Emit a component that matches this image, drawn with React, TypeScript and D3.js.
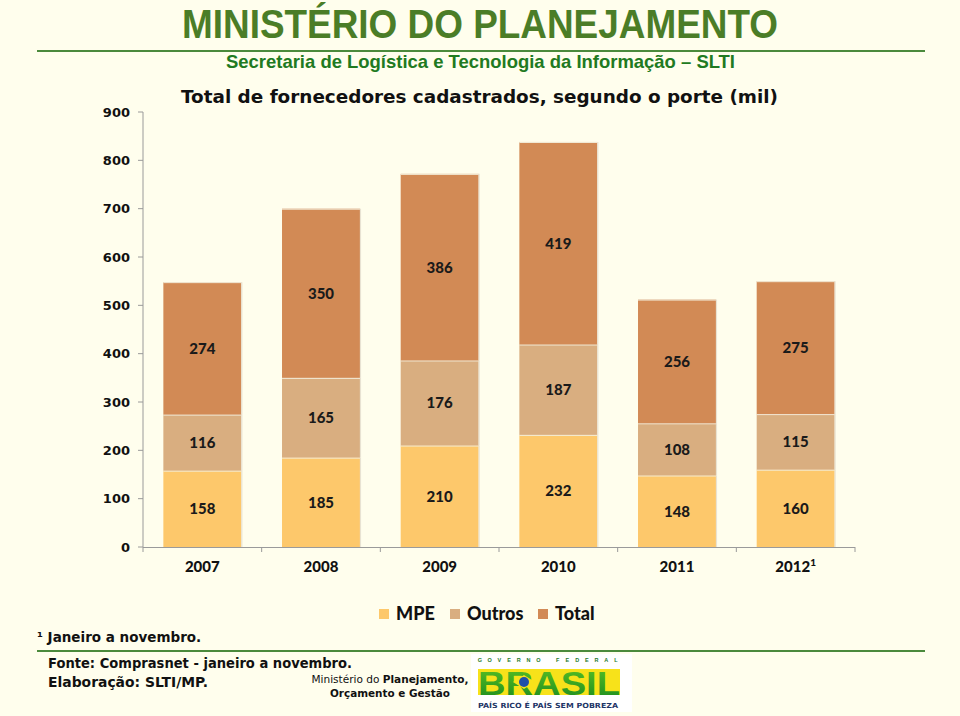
import React from "react";
import * as d3 from "d3";

const years = ["2007", "2008", "2009", "2010", "2011", "2012"];
const yearSup = ["", "", "", "", "", "1"];
const mpe = [158, 185, 210, 232, 148, 160];
const outros = [116, 165, 176, 187, 108, 115];
const total = [274, 350, 386, 419, 256, 275];
const yTicks = [0, 100, 200, 300, 400, 500, 600, 700, 800, 900];
const seriesKeys = ["MPE", "Outros", "Total"];
const seriesColors = ["#fdc86b", "#d9ae80", "#d28a55"];
const govLetters = ["G", "O", "V", "E", "R", "N", "O", "", "F", "E", "D", "E", "R", "A", "L"];

const W = 960;
const H = 716;

export default function App() {
  const x = d3.scaleBand<string>().domain(years).range([143, 855]).paddingInner(0.343).paddingOuter(0.1715);
  const y = d3.scaleLinear().domain([0, 900]).range([547, 112]);

  const rows = years.map((yr, i) => ({ year: yr, MPE: mpe[i], Outros: outros[i], Total: total[i] }));
  const stack = d3.stack<any>().keys(seriesKeys);
  const layers = stack(rows);

  const step = x.step();
  const boundaries = d3.range(years.length + 1).map((i) => 143 + i * step);

  const labelFont = "Lato, 'Open Sans', sans-serif";
  const verd = "'DejaVu Sans', Verdana, sans-serif";
  const narrow = "'Liberation Sans Narrow', 'Arial Narrow', 'Liberation Sans', sans-serif";

  const govX = d3.scaleLinear().domain([0, govLetters.length - 1]).range([480, 616]);

  return (
    <svg width={W} height={H} style={{ position: "absolute", left: 0, top: 0 }} xmlns="http://www.w3.org/2000/svg">
      <defs>
        <linearGradient id="brasilG" x1="0" y1="0" x2="0" y2="1">
          <stop offset="0" stopColor="#5cc224" />
          <stop offset="1" stopColor="#1a8a1f" />
        </linearGradient>
      </defs>
      <rect x={0} y={0} width={W} height={H} fill="#fffeed" />

      {/* Header */}
      <text x={480} y={38} textAnchor="middle" fontFamily={narrow} fontWeight="bold" fontSize={40} fill="#4b7d27" textLength={596} lengthAdjust="spacingAndGlyphs">
        MINISTÉRIO DO PLANEJAMENTO
      </text>
      <line x1={37} x2={925} y1={51} y2={51} stroke="#4b8a3c" strokeWidth={2} />
      <text x={480.5} y={68} textAnchor="middle" fontFamily={narrow} fontWeight="bold" fontSize={18.5} fill="#217a21" textLength={509} lengthAdjust="spacingAndGlyphs">
        Secretaria de Logística e Tecnologia da Informação – SLTI
      </text>
      <text x={479.5} y={103} textAnchor="middle" fontFamily={verd} fontWeight="bold" fontSize={18} fill="#111" textLength={597} lengthAdjust="spacingAndGlyphs">
        Total de fornecedores cadastrados, segundo o porte (mil)
      </text>

      {/* Y axis */}
      <line x1={143} x2={143} y1={y(900)} y2={y(0)} stroke="#9a9a9a" strokeWidth={1} />
      {yTicks.map((t) => (
        <g key={t}>
          <line x1={138} x2={143} y1={y(t)} y2={y(t)} stroke="#9a9a9a" />
          <text x={130} y={y(t)} dy="0.36em" textAnchor="end" fontFamily={verd} fontWeight="bold" fontSize={13} fill="#111">
            {t}
          </text>
        </g>
      ))}

      {/* Bars */}
      {layers.map((layer, li) => (
        <g key={layer.key}>
          {layer.map((d: any, i: number) => {
            const x0 = x(years[i]) as number;
            const top = y(d[1]);
            const bot = y(d[0]);
            return (
              <g key={i}>
                <rect x={x0} y={top} width={x.bandwidth()} height={bot - top} fill={seriesColors[li]} />
                <line x1={x0 + x.bandwidth() + 0.5} x2={x0 + x.bandwidth() + 0.5} y1={top} y2={bot} stroke="#e8e3d3" strokeWidth={1.2} />
                <line x1={x0} x2={x0 + x.bandwidth()} y1={top + 0.5} y2={top + 0.5} stroke="#f3eedc" strokeWidth={1} />
                <text x={x0 + x.bandwidth() / 2} y={(top + bot) / 2} dy="0.36em" textAnchor="middle" fontFamily={labelFont} fontWeight="900" fontSize={15} fill="#1a1a1a">
                  {d.data[layer.key]}
                </text>
              </g>
            );
          })}
        </g>
      ))}

      {/* X axis */}
      <line x1={143} x2={855} y1={547.5} y2={547.5} stroke="#9a9a9a" />
      {boundaries.map((b, i) => (
        <line key={i} x1={b} x2={b} y1={547} y2={552} stroke="#9a9a9a" />
      ))}
      {years.map((yr, i) => (
        <text key={yr} x={(x(yr) as number) + x.bandwidth() / 2} y={572} textAnchor="middle" fontFamily={labelFont} fontWeight="900" fontSize={15} fill="#111">
          {yr}
          {yearSup[i] ? (
            <tspan dy={-6} fontSize={10}>{yearSup[i]}</tspan>
          ) : null}
        </text>
      ))}

      {/* Legend */}
      {seriesKeys.map((k, i) => {
        const lx = [379, 450, 538][i];
        return (
          <g key={k}>
            <rect x={lx} y={609} width={10} height={10} fill={seriesColors[i]} />
            <text x={lx + 17} y={620} fontFamily={labelFont} fontWeight="900" fontSize={18} fill="#111">
              {k}
            </text>
          </g>
        );
      })}

      {/* Footer */}
      <text x={37} y={642} fontFamily={verd} fontWeight="bold" fontSize={13.5} fill="#111">
        ¹ Janeiro a novembro.
      </text>
      <line x1={37} x2={925} y1={651} y2={651} stroke="#4b8a3c" strokeWidth={2} />
      <text x={48} y={668} fontFamily={verd} fontWeight="bold" fontSize={13.5} fill="#111" textLength={304} lengthAdjust="spacingAndGlyphs">
        Fonte: Comprasnet - janeiro a novembro.
      </text>
      <text x={48} y={687} fontFamily={verd} fontWeight="bold" fontSize={13.5} fill="#111" textLength={160} lengthAdjust="spacingAndGlyphs">
        Elaboração: SLTI/MP.
      </text>
      <text x={390} y={683} textAnchor="middle" fontFamily={verd} fontSize={10.5} fill="#111" textLength={157} lengthAdjust="spacingAndGlyphs">
        Ministério do <tspan fontWeight="bold">Planejamento,</tspan>
      </text>
      <text x={390} y={697} textAnchor="middle" fontFamily={verd} fontWeight="bold" fontSize={10.5} fill="#111" textLength={120} lengthAdjust="spacingAndGlyphs">
        Orçamento e Gestão
      </text>

      {/* Logo */}
      <rect x={471} y={654} width={161} height={58} fill="#ffffff" />
      {govLetters.map((l, i) => (
        <text key={i} x={govX(i)} y={662} textAnchor="middle" fontFamily="'Liberation Sans', sans-serif" fontWeight="bold" fontSize={5.5} fill="#1f7a2a">
          {l}
        </text>
      ))}
      <rect x={478} y={669} width={142} height={26} fill="#f7e21a" />
      <text x={549} y={695} textAnchor="middle" fontFamily="'Liberation Sans', sans-serif" fontWeight="900" fontSize={34} fill="url(#brasilG)" textLength={142} lengthAdjust="spacingAndGlyphs">
        BRASIL
      </text>
      <polygon points="513,682 524,675 535,682 524,689" fill="#f7e21a" />
      <circle cx={524} cy={682} r={5} fill="#1f4fa8" />
      <text x={548} y={708} textAnchor="middle" fontFamily="'DejaVu Sans', sans-serif" fontWeight="bold" fontSize={7} fill="#1e3566" textLength={140} lengthAdjust="spacingAndGlyphs">
        PAÍS RICO É PAÍS SEM POBREZA
      </text>
    </svg>
  );
}
